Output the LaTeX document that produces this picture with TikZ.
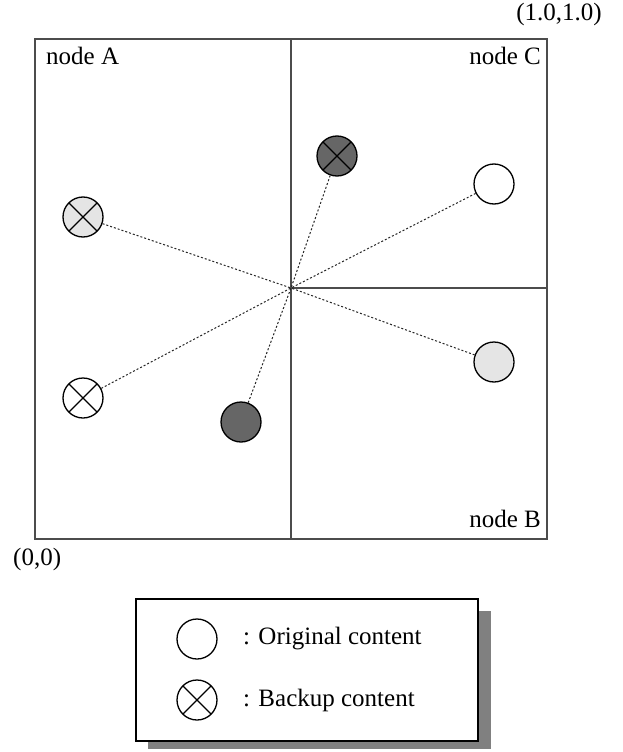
\documentclass[tikz,border=0pt]{standalone}
\usepackage{fontspec}
\setmainfont{Liberation Serif}
\begin{document}
\begin{tikzpicture}[x=1pt,y=-1pt,
  frameline/.style={draw=black!70, line width=1.5pt},
  content/.style={circle, draw=black, line width=1.3pt, minimum size=40pt, inner sep=0pt},
  backup/.style={content, path picture={
      \draw[line width=1.3pt] (path picture bounding box.north west) -- (path picture bounding box.south east);
      \draw[line width=1.3pt] (path picture bounding box.north east) -- (path picture bounding box.south west);}},
  light/.style={fill=black!10},
  dark/.style={fill=black!60},
  link/.style={draw=black!85, line width=1pt, dash pattern=on 2pt off 2pt},
  lbl/.style={font=\fontsize{25}{30}\selectfont, inner sep=0pt}
]
\useasboundingbox[fill=white] (0,0) rectangle (622,752);
% main frame
\draw[frameline] (35,39) rectangle (547,539);
\draw[frameline] (291,39) -- (291,539);
\draw[frameline] (291,288) -- (547,288);
\coordinate (ctr) at (291,288);
% labels
\node[lbl, anchor=base west] (la) at (46,65) {node A};
\node[lbl, anchor=base east] (lc) at (541,65) {node C};
\node[lbl, anchor=base east] (lb) at (541,527) {node B};
\node[lbl, anchor=base east] (l11) at (602,21) {(1.0,1.0)};
\node[lbl, anchor=base west] (l00) at (13,565) {(0,0)};
% circles
\node[backup, light] (a1) at (83,217) {};
\node[backup, fill=white] (a2) at (83,398) {};
\node[content, dark] (d1) at (241,422) {};
\node[backup, dark] (d2) at (337,156) {};
\node[content, fill=white] (c1) at (494,184) {};
\node[content, light] (b1) at (494,362) {};
% connectors
\draw[link] (a1) -- (ctr);
\draw[link] (a2) -- (ctr);
\draw[link] (d1) -- (ctr);
\draw[link] (d2) -- (ctr);
\draw[link] (c1) -- (ctr);
\draw[link] (b1) -- (ctr);
% legend
\fill[black!50] (148,611) rectangle (491,749);
\draw[line width=1.3pt, fill=white] (136,599) rectangle (478,741);
\node[content, fill=white] (lg1) at (197,639) {};
\node[backup, fill=white] (lg2) at (197,700) {};
\node[lbl, anchor=west] (t1) at (243,639) {: Original content};
\node[lbl, anchor=west] (t2) at (243,700) {: Backup content};
\end{tikzpicture}
\end{document}
